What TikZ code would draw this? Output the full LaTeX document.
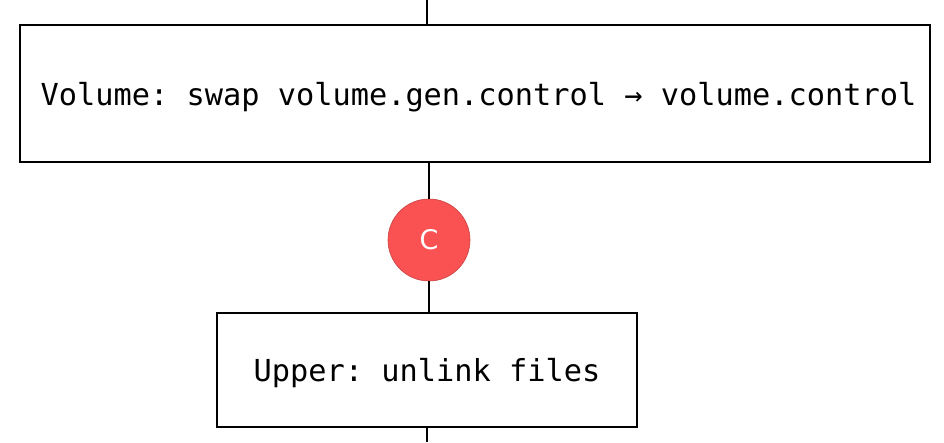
\documentclass[tikz,border=0pt]{standalone}
\usepackage{fontspec}
\setmonofont{DejaVu Sans Mono}
\setsansfont{DejaVu Sans}
\definecolor{exred}{HTML}{FA5252}
\begin{document}
\begin{tikzpicture}[x=1pt,y=-1pt,
  box/.style={draw=black,line width=2.2pt,fill=white,inner sep=0pt,text height=30pt,text depth=7pt,font=\ttfamily\fontsize{30.3}{36}\selectfont},
  conn/.style={draw=black,line width=2.8pt},
  badge/.style={circle,fill=exred,draw=exred!80!black,line width=0.6pt,minimum size=82pt,inner sep=0pt,text=white,font=\sffamily\fontsize{27}{30}\selectfont}]
\useasboundingbox (0,0) rectangle (944,442);
\fill[white] (0,0) rectangle (944,442);
\coordinate (top) at (427,0);
\coordinate (bot) at (427,442);
\node[box,minimum width=910pt,minimum height=137pt] (vol) at (475,93.5) {\hspace*{7pt}Volume: swap volume.gen.control → volume.control};
\node[badge] (c) at (429,240) {C};
\node[box,minimum width=420pt,minimum height=114pt] (up) at (427,370) {Upper: unlink files};
\draw[conn] (top) -- (top |- vol.north);
\draw[conn] (vol.south -| c) -- (c.north);
\draw[conn] (c.south) -- (c |- up.north);
\draw[conn] (up.south -| bot) -- (bot);
\end{tikzpicture}
\end{document}
